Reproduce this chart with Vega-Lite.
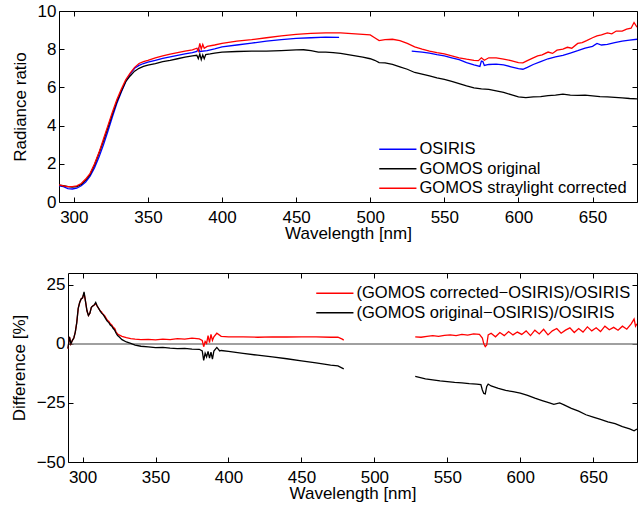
{
  "$schema": "https://vega.github.io/schema/vega-lite/v6.json",
  "padding": {"left": 10, "top": 2, "right": 3, "bottom": 2},
  "background": "white",
  "config": {
    "font": "Liberation Sans",
    "view": {"stroke": null},
    "axis": {
      "grid": false, "domainColor": "black", "domainWidth": 1, "tickColor": "black", "tickWidth": 1,
      "tickSize": -5, "labelFontSize": 17, "labelColor": "black", "titleFontSize": 17, "titleColor": "black",
      "titleFontWeight": "normal", "labelFont": "Liberation Sans", "titleFont": "Liberation Sans"
    },
    "legend": {
      "labelFontSize": 16.5, "labelColor": "black", "labelFont": "Liberation Sans", "padding": 0, "labelLimit": 500,
      "symbolType": "M-1,0H5.2", "symbolSize": 144, "symbolStrokeWidth": 1.4, "rowPadding": 2.5, "labelOffset": 26
    },
    "line": {"strokeWidth": 1.3}
  },
  "datasets": {
    "top": [
      {"wl":290,"s":"OSIRIS","g":1,"v":0.85},{"wl":293,"s":"OSIRIS","g":1,"v":0.8},{"wl":296,"s":"OSIRIS","g":1,"v":0.7},{"wl":299,"s":"OSIRIS","g":1,"v":0.68},{"wl":302,"s":"OSIRIS","g":1,"v":0.72},{"wl":305,"s":"OSIRIS","g":1,"v":0.85},{"wl":308,"s":"OSIRIS","g":1,"v":1.05},{"wl":311,"s":"OSIRIS","g":1,"v":1.35},{"wl":314,"s":"OSIRIS","g":1,"v":1.8},{"wl":317,"s":"OSIRIS","g":1,"v":2.35},{"wl":320,"s":"OSIRIS","g":1,"v":3.0},{"wl":323,"s":"OSIRIS","g":1,"v":3.7},{"wl":326,"s":"OSIRIS","g":1,"v":4.45},{"wl":329,"s":"OSIRIS","g":1,"v":5.15},{"wl":332,"s":"OSIRIS","g":1,"v":5.75},{"wl":335,"s":"OSIRIS","g":1,"v":6.3},{"wl":338,"s":"OSIRIS","g":1,"v":6.7},{"wl":341,"s":"OSIRIS","g":1,"v":7.0},{"wl":344,"s":"OSIRIS","g":1,"v":7.15},{"wl":347,"s":"OSIRIS","g":1,"v":7.25},{"wl":350,"s":"OSIRIS","g":1,"v":7.32},{"wl":355,"s":"OSIRIS","g":1,"v":7.42},{"wl":360,"s":"OSIRIS","g":1,"v":7.52},{"wl":365,"s":"OSIRIS","g":1,"v":7.6},{"wl":370,"s":"OSIRIS","g":1,"v":7.68},{"wl":375,"s":"OSIRIS","g":1,"v":7.75},{"wl":380,"s":"OSIRIS","g":1,"v":7.82},{"wl":383,"s":"OSIRIS","g":1,"v":7.88},{"wl":384,"s":"OSIRIS","g":1,"v":8.05},{"wl":385,"s":"OSIRIS","g":1,"v":7.88},{"wl":390,"s":"OSIRIS","g":1,"v":7.93},{"wl":395,"s":"OSIRIS","g":1,"v":8.02},{"wl":400,"s":"OSIRIS","g":1,"v":8.12},{"wl":410,"s":"OSIRIS","g":1,"v":8.22},{"wl":420,"s":"OSIRIS","g":1,"v":8.32},{"wl":430,"s":"OSIRIS","g":1,"v":8.42},{"wl":440,"s":"OSIRIS","g":1,"v":8.5},{"wl":450,"s":"OSIRIS","g":1,"v":8.57},{"wl":460,"s":"OSIRIS","g":1,"v":8.6},{"wl":470,"s":"OSIRIS","g":1,"v":8.63},{"wl":479,"s":"OSIRIS","g":1,"v":8.62},
      {"wl":528,"s":"OSIRIS","g":2,"v":7.9},{"wl":535,"s":"OSIRIS","g":2,"v":7.85},{"wl":540,"s":"OSIRIS","g":2,"v":7.8},{"wl":545,"s":"OSIRIS","g":2,"v":7.72},{"wl":550,"s":"OSIRIS","g":2,"v":7.65},{"wl":555,"s":"OSIRIS","g":2,"v":7.55},{"wl":560,"s":"OSIRIS","g":2,"v":7.45},{"wl":565,"s":"OSIRIS","g":2,"v":7.3},{"wl":570,"s":"OSIRIS","g":2,"v":7.18},{"wl":574,"s":"OSIRIS","g":2,"v":7.1},{"wl":575,"s":"OSIRIS","g":2,"v":7.38},{"wl":576,"s":"OSIRIS","g":2,"v":7.35},{"wl":577,"s":"OSIRIS","g":2,"v":7.15},{"wl":580,"s":"OSIRIS","g":2,"v":7.2},{"wl":585,"s":"OSIRIS","g":2,"v":7.22},{"wl":590,"s":"OSIRIS","g":2,"v":7.18},{"wl":595,"s":"OSIRIS","g":2,"v":7.08},{"wl":600,"s":"OSIRIS","g":2,"v":6.98},{"wl":603,"s":"OSIRIS","g":2,"v":6.95},{"wl":606,"s":"OSIRIS","g":2,"v":7.05},{"wl":610,"s":"OSIRIS","g":2,"v":7.2},{"wl":615,"s":"OSIRIS","g":2,"v":7.35},{"wl":620,"s":"OSIRIS","g":2,"v":7.5},{"wl":625,"s":"OSIRIS","g":2,"v":7.6},{"wl":630,"s":"OSIRIS","g":2,"v":7.68},{"wl":635,"s":"OSIRIS","g":2,"v":7.8},{"wl":640,"s":"OSIRIS","g":2,"v":7.92},{"wl":645,"s":"OSIRIS","g":2,"v":8.05},{"wl":650,"s":"OSIRIS","g":2,"v":8.15},{"wl":653,"s":"OSIRIS","g":2,"v":8.3},{"wl":656,"s":"OSIRIS","g":2,"v":8.22},{"wl":660,"s":"OSIRIS","g":2,"v":8.25},{"wl":665,"s":"OSIRIS","g":2,"v":8.35},{"wl":670,"s":"OSIRIS","g":2,"v":8.42},{"wl":675,"s":"OSIRIS","g":2,"v":8.48},{"wl":680,"s":"OSIRIS","g":2,"v":8.52},
      {"wl":290,"s":"GOMOS original","g":1,"v":0.88},{"wl":293,"s":"GOMOS original","g":1,"v":0.85},{"wl":296,"s":"GOMOS original","g":1,"v":0.8},{"wl":299,"s":"GOMOS original","g":1,"v":0.78},{"wl":302,"s":"GOMOS original","g":1,"v":0.8},{"wl":305,"s":"GOMOS original","g":1,"v":0.92},{"wl":308,"s":"GOMOS original","g":1,"v":1.15},{"wl":311,"s":"GOMOS original","g":1,"v":1.45},{"wl":314,"s":"GOMOS original","g":1,"v":1.95},{"wl":317,"s":"GOMOS original","g":1,"v":2.55},{"wl":320,"s":"GOMOS original","g":1,"v":3.2},{"wl":323,"s":"GOMOS original","g":1,"v":3.9},{"wl":326,"s":"GOMOS original","g":1,"v":4.6},{"wl":329,"s":"GOMOS original","g":1,"v":5.25},{"wl":332,"s":"GOMOS original","g":1,"v":5.8},{"wl":335,"s":"GOMOS original","g":1,"v":6.3},{"wl":338,"s":"GOMOS original","g":1,"v":6.6},{"wl":341,"s":"GOMOS original","g":1,"v":6.85},{"wl":344,"s":"GOMOS original","g":1,"v":7.0},{"wl":347,"s":"GOMOS original","g":1,"v":7.1},{"wl":350,"s":"GOMOS original","g":1,"v":7.17},{"wl":355,"s":"GOMOS original","g":1,"v":7.25},{"wl":360,"s":"GOMOS original","g":1,"v":7.35},{"wl":365,"s":"GOMOS original","g":1,"v":7.42},{"wl":370,"s":"GOMOS original","g":1,"v":7.5},{"wl":375,"s":"GOMOS original","g":1,"v":7.58},{"wl":380,"s":"GOMOS original","g":1,"v":7.65},{"wl":383,"s":"GOMOS original","g":1,"v":7.68},{"wl":384,"s":"GOMOS original","g":1,"v":7.5},{"wl":385,"s":"GOMOS original","g":1,"v":7.75},{"wl":386,"s":"GOMOS original","g":1,"v":7.45},{"wl":387,"s":"GOMOS original","g":1,"v":7.7},{"wl":388,"s":"GOMOS original","g":1,"v":7.5},{"wl":389,"s":"GOMOS original","g":1,"v":7.72},{"wl":392,"s":"GOMOS original","g":1,"v":7.75},{"wl":395,"s":"GOMOS original","g":1,"v":7.8},{"wl":400,"s":"GOMOS original","g":1,"v":7.85},{"wl":410,"s":"GOMOS original","g":1,"v":7.88},{"wl":420,"s":"GOMOS original","g":1,"v":7.9},{"wl":430,"s":"GOMOS original","g":1,"v":7.9},{"wl":440,"s":"GOMOS original","g":1,"v":7.93},{"wl":450,"s":"GOMOS original","g":1,"v":7.96},{"wl":455,"s":"GOMOS original","g":1,"v":7.97},{"wl":460,"s":"GOMOS original","g":1,"v":7.92},{"wl":465,"s":"GOMOS original","g":1,"v":7.85},{"wl":470,"s":"GOMOS original","g":1,"v":7.85},{"wl":475,"s":"GOMOS original","g":1,"v":7.82},{"wl":480,"s":"GOMOS original","g":1,"v":7.78},{"wl":485,"s":"GOMOS original","g":1,"v":7.72},{"wl":490,"s":"GOMOS original","g":1,"v":7.65},{"wl":495,"s":"GOMOS original","g":1,"v":7.58},{"wl":500,"s":"GOMOS original","g":1,"v":7.5},{"wl":503,"s":"GOMOS original","g":1,"v":7.42},{"wl":506,"s":"GOMOS original","g":1,"v":7.3},{"wl":510,"s":"GOMOS original","g":1,"v":7.28},{"wl":515,"s":"GOMOS original","g":1,"v":7.2},{"wl":520,"s":"GOMOS original","g":1,"v":7.08},{"wl":525,"s":"GOMOS original","g":1,"v":6.95},{"wl":530,"s":"GOMOS original","g":1,"v":6.78},{"wl":535,"s":"GOMOS original","g":1,"v":6.7},{"wl":540,"s":"GOMOS original","g":1,"v":6.6},{"wl":545,"s":"GOMOS original","g":1,"v":6.5},{"wl":550,"s":"GOMOS original","g":1,"v":6.42},{"wl":555,"s":"GOMOS original","g":1,"v":6.32},{"wl":560,"s":"GOMOS original","g":1,"v":6.2},{"wl":565,"s":"GOMOS original","g":1,"v":6.08},{"wl":570,"s":"GOMOS original","g":1,"v":5.98},{"wl":575,"s":"GOMOS original","g":1,"v":5.92},{"wl":580,"s":"GOMOS original","g":1,"v":5.9},{"wl":585,"s":"GOMOS original","g":1,"v":5.82},{"wl":590,"s":"GOMOS original","g":1,"v":5.74},{"wl":595,"s":"GOMOS original","g":1,"v":5.62},{"wl":600,"s":"GOMOS original","g":1,"v":5.5},{"wl":605,"s":"GOMOS original","g":1,"v":5.46},{"wl":610,"s":"GOMOS original","g":1,"v":5.5},{"wl":615,"s":"GOMOS original","g":1,"v":5.52},{"wl":620,"s":"GOMOS original","g":1,"v":5.57},{"wl":625,"s":"GOMOS original","g":1,"v":5.6},{"wl":630,"s":"GOMOS original","g":1,"v":5.65},{"wl":635,"s":"GOMOS original","g":1,"v":5.6},{"wl":640,"s":"GOMOS original","g":1,"v":5.58},{"wl":645,"s":"GOMOS original","g":1,"v":5.6},{"wl":650,"s":"GOMOS original","g":1,"v":5.56},{"wl":655,"s":"GOMOS original","g":1,"v":5.52},{"wl":660,"s":"GOMOS original","g":1,"v":5.5},{"wl":665,"s":"GOMOS original","g":1,"v":5.48},{"wl":670,"s":"GOMOS original","g":1,"v":5.45},{"wl":675,"s":"GOMOS original","g":1,"v":5.42},{"wl":680,"s":"GOMOS original","g":1,"v":5.4},
      {"wl":290,"s":"GOMOS straylight corrected","g":1,"v":0.9},{"wl":293,"s":"GOMOS straylight corrected","g":1,"v":0.85},{"wl":296,"s":"GOMOS straylight corrected","g":1,"v":0.8},{"wl":299,"s":"GOMOS straylight corrected","g":1,"v":0.8},{"wl":302,"s":"GOMOS straylight corrected","g":1,"v":0.85},{"wl":305,"s":"GOMOS straylight corrected","g":1,"v":0.97},{"wl":308,"s":"GOMOS straylight corrected","g":1,"v":1.2},{"wl":311,"s":"GOMOS straylight corrected","g":1,"v":1.5},{"wl":314,"s":"GOMOS straylight corrected","g":1,"v":2.0},{"wl":317,"s":"GOMOS straylight corrected","g":1,"v":2.6},{"wl":320,"s":"GOMOS straylight corrected","g":1,"v":3.3},{"wl":323,"s":"GOMOS straylight corrected","g":1,"v":4.0},{"wl":326,"s":"GOMOS straylight corrected","g":1,"v":4.7},{"wl":329,"s":"GOMOS straylight corrected","g":1,"v":5.35},{"wl":332,"s":"GOMOS straylight corrected","g":1,"v":5.9},{"wl":335,"s":"GOMOS straylight corrected","g":1,"v":6.4},{"wl":338,"s":"GOMOS straylight corrected","g":1,"v":6.75},{"wl":341,"s":"GOMOS straylight corrected","g":1,"v":7.05},{"wl":344,"s":"GOMOS straylight corrected","g":1,"v":7.25},{"wl":347,"s":"GOMOS straylight corrected","g":1,"v":7.35},{"wl":350,"s":"GOMOS straylight corrected","g":1,"v":7.42},{"wl":355,"s":"GOMOS straylight corrected","g":1,"v":7.55},{"wl":360,"s":"GOMOS straylight corrected","g":1,"v":7.65},{"wl":365,"s":"GOMOS straylight corrected","g":1,"v":7.74},{"wl":370,"s":"GOMOS straylight corrected","g":1,"v":7.82},{"wl":375,"s":"GOMOS straylight corrected","g":1,"v":7.9},{"wl":380,"s":"GOMOS straylight corrected","g":1,"v":7.97},{"wl":383,"s":"GOMOS straylight corrected","g":1,"v":8.05},{"wl":384,"s":"GOMOS straylight corrected","g":1,"v":7.9},{"wl":385,"s":"GOMOS straylight corrected","g":1,"v":8.3},{"wl":386,"s":"GOMOS straylight corrected","g":1,"v":8.0},{"wl":387,"s":"GOMOS straylight corrected","g":1,"v":8.25},{"wl":388,"s":"GOMOS straylight corrected","g":1,"v":8.05},{"wl":390,"s":"GOMOS straylight corrected","g":1,"v":8.15},{"wl":395,"s":"GOMOS straylight corrected","g":1,"v":8.22},{"wl":400,"s":"GOMOS straylight corrected","g":1,"v":8.3},{"wl":410,"s":"GOMOS straylight corrected","g":1,"v":8.42},{"wl":420,"s":"GOMOS straylight corrected","g":1,"v":8.5},{"wl":430,"s":"GOMOS straylight corrected","g":1,"v":8.6},{"wl":440,"s":"GOMOS straylight corrected","g":1,"v":8.7},{"wl":450,"s":"GOMOS straylight corrected","g":1,"v":8.78},{"wl":460,"s":"GOMOS straylight corrected","g":1,"v":8.83},{"wl":470,"s":"GOMOS straylight corrected","g":1,"v":8.85},{"wl":480,"s":"GOMOS straylight corrected","g":1,"v":8.85},{"wl":490,"s":"GOMOS straylight corrected","g":1,"v":8.8},{"wl":500,"s":"GOMOS straylight corrected","g":1,"v":8.75},{"wl":503,"s":"GOMOS straylight corrected","g":1,"v":8.6},{"wl":506,"s":"GOMOS straylight corrected","g":1,"v":8.45},{"wl":510,"s":"GOMOS straylight corrected","g":1,"v":8.5},{"wl":515,"s":"GOMOS straylight corrected","g":1,"v":8.52},{"wl":520,"s":"GOMOS straylight corrected","g":1,"v":8.45},{"wl":525,"s":"GOMOS straylight corrected","g":1,"v":8.3},{"wl":530,"s":"GOMOS straylight corrected","g":1,"v":8.12},{"wl":535,"s":"GOMOS straylight corrected","g":1,"v":8.0},{"wl":540,"s":"GOMOS straylight corrected","g":1,"v":7.9},{"wl":545,"s":"GOMOS straylight corrected","g":1,"v":7.82},{"wl":550,"s":"GOMOS straylight corrected","g":1,"v":7.75},{"wl":555,"s":"GOMOS straylight corrected","g":1,"v":7.65},{"wl":560,"s":"GOMOS straylight corrected","g":1,"v":7.55},{"wl":565,"s":"GOMOS straylight corrected","g":1,"v":7.48},{"wl":570,"s":"GOMOS straylight corrected","g":1,"v":7.42},{"wl":573,"s":"GOMOS straylight corrected","g":1,"v":7.4},{"wl":575,"s":"GOMOS straylight corrected","g":1,"v":7.55},{"wl":577,"s":"GOMOS straylight corrected","g":1,"v":7.42},{"wl":580,"s":"GOMOS straylight corrected","g":1,"v":7.55},{"wl":585,"s":"GOMOS straylight corrected","g":1,"v":7.55},{"wl":590,"s":"GOMOS straylight corrected","g":1,"v":7.48},{"wl":595,"s":"GOMOS straylight corrected","g":1,"v":7.4},{"wl":600,"s":"GOMOS straylight corrected","g":1,"v":7.3},{"wl":603,"s":"GOMOS straylight corrected","g":1,"v":7.28},{"wl":606,"s":"GOMOS straylight corrected","g":1,"v":7.4},{"wl":610,"s":"GOMOS straylight corrected","g":1,"v":7.55},{"wl":613,"s":"GOMOS straylight corrected","g":1,"v":7.65},{"wl":616,"s":"GOMOS straylight corrected","g":1,"v":7.7},{"wl":620,"s":"GOMOS straylight corrected","g":1,"v":7.85},{"wl":623,"s":"GOMOS straylight corrected","g":1,"v":7.78},{"wl":626,"s":"GOMOS straylight corrected","g":1,"v":7.95},{"wl":630,"s":"GOMOS straylight corrected","g":1,"v":8.0},{"wl":633,"s":"GOMOS straylight corrected","g":1,"v":8.1},{"wl":636,"s":"GOMOS straylight corrected","g":1,"v":8.05},{"wl":640,"s":"GOMOS straylight corrected","g":1,"v":8.3},{"wl":643,"s":"GOMOS straylight corrected","g":1,"v":8.35},{"wl":646,"s":"GOMOS straylight corrected","g":1,"v":8.45},{"wl":650,"s":"GOMOS straylight corrected","g":1,"v":8.6},{"wl":653,"s":"GOMOS straylight corrected","g":1,"v":8.7},{"wl":656,"s":"GOMOS straylight corrected","g":1,"v":8.75},{"wl":660,"s":"GOMOS straylight corrected","g":1,"v":8.85},{"wl":663,"s":"GOMOS straylight corrected","g":1,"v":8.8},{"wl":666,"s":"GOMOS straylight corrected","g":1,"v":8.95},{"wl":670,"s":"GOMOS straylight corrected","g":1,"v":8.95},{"wl":673,"s":"GOMOS straylight corrected","g":1,"v":9.05},{"wl":676,"s":"GOMOS straylight corrected","g":1,"v":9.1},{"wl":678,"s":"GOMOS straylight corrected","g":1,"v":9.4},{"wl":680,"s":"GOMOS straylight corrected","g":1,"v":9.15}
    ],
    "bottom": [
      {"wl":290,"s":"(GOMOS corrected−OSIRIS)/OSIRIS","g":1,"v":-2},{"wl":291,"s":"(GOMOS corrected−OSIRIS)/OSIRIS","g":1,"v":3},{"wl":292,"s":"(GOMOS corrected−OSIRIS)/OSIRIS","g":1,"v":0},{"wl":293,"s":"(GOMOS corrected−OSIRIS)/OSIRIS","g":1,"v":1.5},{"wl":294,"s":"(GOMOS corrected−OSIRIS)/OSIRIS","g":1,"v":2.5},{"wl":295,"s":"(GOMOS corrected−OSIRIS)/OSIRIS","g":1,"v":5},{"wl":296,"s":"(GOMOS corrected−OSIRIS)/OSIRIS","g":1,"v":9},{"wl":297,"s":"(GOMOS corrected−OSIRIS)/OSIRIS","g":1,"v":15},{"wl":298,"s":"(GOMOS corrected−OSIRIS)/OSIRIS","g":1,"v":17.5},{"wl":299,"s":"(GOMOS corrected−OSIRIS)/OSIRIS","g":1,"v":19},{"wl":300,"s":"(GOMOS corrected−OSIRIS)/OSIRIS","g":1,"v":19.5},{"wl":301,"s":"(GOMOS corrected−OSIRIS)/OSIRIS","g":1,"v":21.5},{"wl":302,"s":"(GOMOS corrected−OSIRIS)/OSIRIS","g":1,"v":18},{"wl":303,"s":"(GOMOS corrected−OSIRIS)/OSIRIS","g":1,"v":14},{"wl":304,"s":"(GOMOS corrected−OSIRIS)/OSIRIS","g":1,"v":12},{"wl":305,"s":"(GOMOS corrected−OSIRIS)/OSIRIS","g":1,"v":13},{"wl":306,"s":"(GOMOS corrected−OSIRIS)/OSIRIS","g":1,"v":15.5},{"wl":307,"s":"(GOMOS corrected−OSIRIS)/OSIRIS","g":1,"v":16},{"wl":308,"s":"(GOMOS corrected−OSIRIS)/OSIRIS","g":1,"v":16.5},{"wl":309,"s":"(GOMOS corrected−OSIRIS)/OSIRIS","g":1,"v":17},{"wl":310,"s":"(GOMOS corrected−OSIRIS)/OSIRIS","g":1,"v":16},{"wl":311,"s":"(GOMOS corrected−OSIRIS)/OSIRIS","g":1,"v":15},{"wl":312,"s":"(GOMOS corrected−OSIRIS)/OSIRIS","g":1,"v":14},{"wl":313,"s":"(GOMOS corrected−OSIRIS)/OSIRIS","g":1,"v":13.5},{"wl":314,"s":"(GOMOS corrected−OSIRIS)/OSIRIS","g":1,"v":12.5},{"wl":315,"s":"(GOMOS corrected−OSIRIS)/OSIRIS","g":1,"v":12},{"wl":316,"s":"(GOMOS corrected−OSIRIS)/OSIRIS","g":1,"v":11},{"wl":317,"s":"(GOMOS corrected−OSIRIS)/OSIRIS","g":1,"v":10},{"wl":318,"s":"(GOMOS corrected−OSIRIS)/OSIRIS","g":1,"v":9.5},{"wl":319,"s":"(GOMOS corrected−OSIRIS)/OSIRIS","g":1,"v":8.5},{"wl":320,"s":"(GOMOS corrected−OSIRIS)/OSIRIS","g":1,"v":8},{"wl":321,"s":"(GOMOS corrected−OSIRIS)/OSIRIS","g":1,"v":7},{"wl":322,"s":"(GOMOS corrected−OSIRIS)/OSIRIS","g":1,"v":6.5},{"wl":323,"s":"(GOMOS corrected−OSIRIS)/OSIRIS","g":1,"v":5},{"wl":324,"s":"(GOMOS corrected−OSIRIS)/OSIRIS","g":1,"v":4.2},{"wl":325,"s":"(GOMOS corrected−OSIRIS)/OSIRIS","g":1,"v":3.8},{"wl":327,"s":"(GOMOS corrected−OSIRIS)/OSIRIS","g":1,"v":3.2},{"wl":330,"s":"(GOMOS corrected−OSIRIS)/OSIRIS","g":1,"v":2.6},{"wl":333,"s":"(GOMOS corrected−OSIRIS)/OSIRIS","g":1,"v":2.2},{"wl":336,"s":"(GOMOS corrected−OSIRIS)/OSIRIS","g":1,"v":2.0},{"wl":340,"s":"(GOMOS corrected−OSIRIS)/OSIRIS","g":1,"v":1.8},{"wl":345,"s":"(GOMOS corrected−OSIRIS)/OSIRIS","g":1,"v":1.9},{"wl":350,"s":"(GOMOS corrected−OSIRIS)/OSIRIS","g":1,"v":1.7},{"wl":355,"s":"(GOMOS corrected−OSIRIS)/OSIRIS","g":1,"v":2.0},{"wl":360,"s":"(GOMOS corrected−OSIRIS)/OSIRIS","g":1,"v":1.8},{"wl":365,"s":"(GOMOS corrected−OSIRIS)/OSIRIS","g":1,"v":2.2},{"wl":370,"s":"(GOMOS corrected−OSIRIS)/OSIRIS","g":1,"v":2.0},{"wl":375,"s":"(GOMOS corrected−OSIRIS)/OSIRIS","g":1,"v":2.4},{"wl":380,"s":"(GOMOS corrected−OSIRIS)/OSIRIS","g":1,"v":2.1},{"wl":382,"s":"(GOMOS corrected−OSIRIS)/OSIRIS","g":1,"v":1.5},{"wl":383,"s":"(GOMOS corrected−OSIRIS)/OSIRIS","g":1,"v":-1.2},{"wl":384,"s":"(GOMOS corrected−OSIRIS)/OSIRIS","g":1,"v":1.0},{"wl":385,"s":"(GOMOS corrected−OSIRIS)/OSIRIS","g":1,"v":0.2},{"wl":386,"s":"(GOMOS corrected−OSIRIS)/OSIRIS","g":1,"v":3.5},{"wl":387,"s":"(GOMOS corrected−OSIRIS)/OSIRIS","g":1,"v":0.5},{"wl":388,"s":"(GOMOS corrected−OSIRIS)/OSIRIS","g":1,"v":4.0},{"wl":389,"s":"(GOMOS corrected−OSIRIS)/OSIRIS","g":1,"v":1.5},{"wl":390,"s":"(GOMOS corrected−OSIRIS)/OSIRIS","g":1,"v":3.0},{"wl":392,"s":"(GOMOS corrected−OSIRIS)/OSIRIS","g":1,"v":4.5},{"wl":395,"s":"(GOMOS corrected−OSIRIS)/OSIRIS","g":1,"v":3.2},{"wl":400,"s":"(GOMOS corrected−OSIRIS)/OSIRIS","g":1,"v":3.0},{"wl":410,"s":"(GOMOS corrected−OSIRIS)/OSIRIS","g":1,"v":3.0},{"wl":420,"s":"(GOMOS corrected−OSIRIS)/OSIRIS","g":1,"v":2.8},{"wl":430,"s":"(GOMOS corrected−OSIRIS)/OSIRIS","g":1,"v":3.0},{"wl":440,"s":"(GOMOS corrected−OSIRIS)/OSIRIS","g":1,"v":2.9},{"wl":450,"s":"(GOMOS corrected−OSIRIS)/OSIRIS","g":1,"v":3.0},{"wl":460,"s":"(GOMOS corrected−OSIRIS)/OSIRIS","g":1,"v":3.0},{"wl":470,"s":"(GOMOS corrected−OSIRIS)/OSIRIS","g":1,"v":2.8},{"wl":475,"s":"(GOMOS corrected−OSIRIS)/OSIRIS","g":1,"v":2.8},{"wl":478,"s":"(GOMOS corrected−OSIRIS)/OSIRIS","g":1,"v":2.0},{"wl":479,"s":"(GOMOS corrected−OSIRIS)/OSIRIS","g":1,"v":1.6},
      {"wl":528,"s":"(GOMOS corrected−OSIRIS)/OSIRIS","g":2,"v":3.0},{"wl":532,"s":"(GOMOS corrected−OSIRIS)/OSIRIS","g":2,"v":2.8},{"wl":536,"s":"(GOMOS corrected−OSIRIS)/OSIRIS","g":2,"v":3.2},{"wl":540,"s":"(GOMOS corrected−OSIRIS)/OSIRIS","g":2,"v":3.5},{"wl":544,"s":"(GOMOS corrected−OSIRIS)/OSIRIS","g":2,"v":3.2},{"wl":548,"s":"(GOMOS corrected−OSIRIS)/OSIRIS","g":2,"v":3.6},{"wl":552,"s":"(GOMOS corrected−OSIRIS)/OSIRIS","g":2,"v":3.8},{"wl":556,"s":"(GOMOS corrected−OSIRIS)/OSIRIS","g":2,"v":3.5},{"wl":560,"s":"(GOMOS corrected−OSIRIS)/OSIRIS","g":2,"v":4.0},{"wl":564,"s":"(GOMOS corrected−OSIRIS)/OSIRIS","g":2,"v":3.7},{"wl":568,"s":"(GOMOS corrected−OSIRIS)/OSIRIS","g":2,"v":4.2},{"wl":572,"s":"(GOMOS corrected−OSIRIS)/OSIRIS","g":2,"v":4.0},{"wl":574,"s":"(GOMOS corrected−OSIRIS)/OSIRIS","g":2,"v":2.5},{"wl":575,"s":"(GOMOS corrected−OSIRIS)/OSIRIS","g":2,"v":0.0},{"wl":576,"s":"(GOMOS corrected−OSIRIS)/OSIRIS","g":2,"v":-1.2},{"wl":577,"s":"(GOMOS corrected−OSIRIS)/OSIRIS","g":2,"v":-0.5},{"wl":578,"s":"(GOMOS corrected−OSIRIS)/OSIRIS","g":2,"v":3.8},{"wl":580,"s":"(GOMOS corrected−OSIRIS)/OSIRIS","g":2,"v":4.5},{"wl":583,"s":"(GOMOS corrected−OSIRIS)/OSIRIS","g":2,"v":3.0},{"wl":586,"s":"(GOMOS corrected−OSIRIS)/OSIRIS","g":2,"v":4.8},{"wl":589,"s":"(GOMOS corrected−OSIRIS)/OSIRIS","g":2,"v":3.5},{"wl":592,"s":"(GOMOS corrected−OSIRIS)/OSIRIS","g":2,"v":5.2},{"wl":595,"s":"(GOMOS corrected−OSIRIS)/OSIRIS","g":2,"v":3.8},{"wl":598,"s":"(GOMOS corrected−OSIRIS)/OSIRIS","g":2,"v":5.0},{"wl":601,"s":"(GOMOS corrected−OSIRIS)/OSIRIS","g":2,"v":4.0},{"wl":604,"s":"(GOMOS corrected−OSIRIS)/OSIRIS","g":2,"v":5.5},{"wl":607,"s":"(GOMOS corrected−OSIRIS)/OSIRIS","g":2,"v":3.5},{"wl":610,"s":"(GOMOS corrected−OSIRIS)/OSIRIS","g":2,"v":5.8},{"wl":613,"s":"(GOMOS corrected−OSIRIS)/OSIRIS","g":2,"v":4.2},{"wl":616,"s":"(GOMOS corrected−OSIRIS)/OSIRIS","g":2,"v":6.2},{"wl":619,"s":"(GOMOS corrected−OSIRIS)/OSIRIS","g":2,"v":3.8},{"wl":622,"s":"(GOMOS corrected−OSIRIS)/OSIRIS","g":2,"v":5.5},{"wl":625,"s":"(GOMOS corrected−OSIRIS)/OSIRIS","g":2,"v":6.5},{"wl":628,"s":"(GOMOS corrected−OSIRIS)/OSIRIS","g":2,"v":4.5},{"wl":631,"s":"(GOMOS corrected−OSIRIS)/OSIRIS","g":2,"v":5.8},{"wl":634,"s":"(GOMOS corrected−OSIRIS)/OSIRIS","g":2,"v":6.8},{"wl":637,"s":"(GOMOS corrected−OSIRIS)/OSIRIS","g":2,"v":4.8},{"wl":640,"s":"(GOMOS corrected−OSIRIS)/OSIRIS","g":2,"v":6.5},{"wl":643,"s":"(GOMOS corrected−OSIRIS)/OSIRIS","g":2,"v":5.0},{"wl":646,"s":"(GOMOS corrected−OSIRIS)/OSIRIS","g":2,"v":7.2},{"wl":649,"s":"(GOMOS corrected−OSIRIS)/OSIRIS","g":2,"v":5.5},{"wl":652,"s":"(GOMOS corrected−OSIRIS)/OSIRIS","g":2,"v":6.8},{"wl":655,"s":"(GOMOS corrected−OSIRIS)/OSIRIS","g":2,"v":5.2},{"wl":658,"s":"(GOMOS corrected−OSIRIS)/OSIRIS","g":2,"v":7.5},{"wl":661,"s":"(GOMOS corrected−OSIRIS)/OSIRIS","g":2,"v":6.0},{"wl":664,"s":"(GOMOS corrected−OSIRIS)/OSIRIS","g":2,"v":7.0},{"wl":667,"s":"(GOMOS corrected−OSIRIS)/OSIRIS","g":2,"v":5.8},{"wl":670,"s":"(GOMOS corrected−OSIRIS)/OSIRIS","g":2,"v":7.5},{"wl":673,"s":"(GOMOS corrected−OSIRIS)/OSIRIS","g":2,"v":6.2},{"wl":676,"s":"(GOMOS corrected−OSIRIS)/OSIRIS","g":2,"v":8.5},{"wl":678,"s":"(GOMOS corrected−OSIRIS)/OSIRIS","g":2,"v":10.5},{"wl":679,"s":"(GOMOS corrected−OSIRIS)/OSIRIS","g":2,"v":7.5},{"wl":680,"s":"(GOMOS corrected−OSIRIS)/OSIRIS","g":2,"v":8.5},
      {"wl":290,"s":"(GOMOS original−OSIRIS)/OSIRIS","g":1,"v":-2},{"wl":291,"s":"(GOMOS original−OSIRIS)/OSIRIS","g":1,"v":3},{"wl":292,"s":"(GOMOS original−OSIRIS)/OSIRIS","g":1,"v":0},{"wl":293,"s":"(GOMOS original−OSIRIS)/OSIRIS","g":1,"v":1.5},{"wl":294,"s":"(GOMOS original−OSIRIS)/OSIRIS","g":1,"v":2.5},{"wl":295,"s":"(GOMOS original−OSIRIS)/OSIRIS","g":1,"v":5},{"wl":296,"s":"(GOMOS original−OSIRIS)/OSIRIS","g":1,"v":9},{"wl":297,"s":"(GOMOS original−OSIRIS)/OSIRIS","g":1,"v":15},{"wl":298,"s":"(GOMOS original−OSIRIS)/OSIRIS","g":1,"v":17.5},{"wl":299,"s":"(GOMOS original−OSIRIS)/OSIRIS","g":1,"v":19},{"wl":300,"s":"(GOMOS original−OSIRIS)/OSIRIS","g":1,"v":19.5},{"wl":301,"s":"(GOMOS original−OSIRIS)/OSIRIS","g":1,"v":22},{"wl":302,"s":"(GOMOS original−OSIRIS)/OSIRIS","g":1,"v":18},{"wl":303,"s":"(GOMOS original−OSIRIS)/OSIRIS","g":1,"v":14},{"wl":304,"s":"(GOMOS original−OSIRIS)/OSIRIS","g":1,"v":12},{"wl":305,"s":"(GOMOS original−OSIRIS)/OSIRIS","g":1,"v":13},{"wl":306,"s":"(GOMOS original−OSIRIS)/OSIRIS","g":1,"v":15.5},{"wl":307,"s":"(GOMOS original−OSIRIS)/OSIRIS","g":1,"v":16},{"wl":308,"s":"(GOMOS original−OSIRIS)/OSIRIS","g":1,"v":16.5},{"wl":309,"s":"(GOMOS original−OSIRIS)/OSIRIS","g":1,"v":17.5},{"wl":310,"s":"(GOMOS original−OSIRIS)/OSIRIS","g":1,"v":16},{"wl":311,"s":"(GOMOS original−OSIRIS)/OSIRIS","g":1,"v":15},{"wl":312,"s":"(GOMOS original−OSIRIS)/OSIRIS","g":1,"v":14},{"wl":313,"s":"(GOMOS original−OSIRIS)/OSIRIS","g":1,"v":13},{"wl":314,"s":"(GOMOS original−OSIRIS)/OSIRIS","g":1,"v":12.5},{"wl":315,"s":"(GOMOS original−OSIRIS)/OSIRIS","g":1,"v":11.5},{"wl":316,"s":"(GOMOS original−OSIRIS)/OSIRIS","g":1,"v":10.5},{"wl":317,"s":"(GOMOS original−OSIRIS)/OSIRIS","g":1,"v":9.5},{"wl":318,"s":"(GOMOS original−OSIRIS)/OSIRIS","g":1,"v":9},{"wl":319,"s":"(GOMOS original−OSIRIS)/OSIRIS","g":1,"v":8},{"wl":320,"s":"(GOMOS original−OSIRIS)/OSIRIS","g":1,"v":7.5},{"wl":321,"s":"(GOMOS original−OSIRIS)/OSIRIS","g":1,"v":6.5},{"wl":322,"s":"(GOMOS original−OSIRIS)/OSIRIS","g":1,"v":5.8},{"wl":323,"s":"(GOMOS original−OSIRIS)/OSIRIS","g":1,"v":4.5},{"wl":324,"s":"(GOMOS original−OSIRIS)/OSIRIS","g":1,"v":3.5},{"wl":325,"s":"(GOMOS original−OSIRIS)/OSIRIS","g":1,"v":3.0},{"wl":327,"s":"(GOMOS original−OSIRIS)/OSIRIS","g":1,"v":1.8},{"wl":330,"s":"(GOMOS original−OSIRIS)/OSIRIS","g":1,"v":0.8},{"wl":333,"s":"(GOMOS original−OSIRIS)/OSIRIS","g":1,"v":0.2},{"wl":336,"s":"(GOMOS original−OSIRIS)/OSIRIS","g":1,"v":-0.5},{"wl":340,"s":"(GOMOS original−OSIRIS)/OSIRIS","g":1,"v":-1.0},{"wl":345,"s":"(GOMOS original−OSIRIS)/OSIRIS","g":1,"v":-1.3},{"wl":350,"s":"(GOMOS original−OSIRIS)/OSIRIS","g":1,"v":-1.6},{"wl":355,"s":"(GOMOS original−OSIRIS)/OSIRIS","g":1,"v":-1.5},{"wl":360,"s":"(GOMOS original−OSIRIS)/OSIRIS","g":1,"v":-1.8},{"wl":365,"s":"(GOMOS original−OSIRIS)/OSIRIS","g":1,"v":-2.0},{"wl":370,"s":"(GOMOS original−OSIRIS)/OSIRIS","g":1,"v":-1.9},{"wl":375,"s":"(GOMOS original−OSIRIS)/OSIRIS","g":1,"v":-2.2},{"wl":380,"s":"(GOMOS original−OSIRIS)/OSIRIS","g":1,"v":-2.3},{"wl":382,"s":"(GOMOS original−OSIRIS)/OSIRIS","g":1,"v":-3.0},{"wl":383,"s":"(GOMOS original−OSIRIS)/OSIRIS","g":1,"v":-7.0},{"wl":384,"s":"(GOMOS original−OSIRIS)/OSIRIS","g":1,"v":-4.0},{"wl":385,"s":"(GOMOS original−OSIRIS)/OSIRIS","g":1,"v":-5.5},{"wl":386,"s":"(GOMOS original−OSIRIS)/OSIRIS","g":1,"v":-3.2},{"wl":387,"s":"(GOMOS original−OSIRIS)/OSIRIS","g":1,"v":-6.0},{"wl":388,"s":"(GOMOS original−OSIRIS)/OSIRIS","g":1,"v":-3.5},{"wl":389,"s":"(GOMOS original−OSIRIS)/OSIRIS","g":1,"v":-6.5},{"wl":390,"s":"(GOMOS original−OSIRIS)/OSIRIS","g":1,"v":-3.0},{"wl":392,"s":"(GOMOS original−OSIRIS)/OSIRIS","g":1,"v":-1.5},{"wl":394,"s":"(GOMOS original−OSIRIS)/OSIRIS","g":1,"v":-3.0},{"wl":395,"s":"(GOMOS original−OSIRIS)/OSIRIS","g":1,"v":-2.8},{"wl":400,"s":"(GOMOS original−OSIRIS)/OSIRIS","g":1,"v":-3.2},{"wl":410,"s":"(GOMOS original−OSIRIS)/OSIRIS","g":1,"v":-4.0},{"wl":420,"s":"(GOMOS original−OSIRIS)/OSIRIS","g":1,"v":-4.8},{"wl":430,"s":"(GOMOS original−OSIRIS)/OSIRIS","g":1,"v":-5.5},{"wl":440,"s":"(GOMOS original−OSIRIS)/OSIRIS","g":1,"v":-6.3},{"wl":450,"s":"(GOMOS original−OSIRIS)/OSIRIS","g":1,"v":-7.2},{"wl":460,"s":"(GOMOS original−OSIRIS)/OSIRIS","g":1,"v":-8.0},{"wl":470,"s":"(GOMOS original−OSIRIS)/OSIRIS","g":1,"v":-9.0},{"wl":475,"s":"(GOMOS original−OSIRIS)/OSIRIS","g":1,"v":-9.3},{"wl":479,"s":"(GOMOS original−OSIRIS)/OSIRIS","g":1,"v":-10.6},
      {"wl":528,"s":"(GOMOS original−OSIRIS)/OSIRIS","g":2,"v":-13.8},{"wl":535,"s":"(GOMOS original−OSIRIS)/OSIRIS","g":2,"v":-14.8},{"wl":540,"s":"(GOMOS original−OSIRIS)/OSIRIS","g":2,"v":-15.2},{"wl":545,"s":"(GOMOS original−OSIRIS)/OSIRIS","g":2,"v":-15.7},{"wl":550,"s":"(GOMOS original−OSIRIS)/OSIRIS","g":2,"v":-16.0},{"wl":555,"s":"(GOMOS original−OSIRIS)/OSIRIS","g":2,"v":-16.3},{"wl":560,"s":"(GOMOS original−OSIRIS)/OSIRIS","g":2,"v":-16.5},{"wl":565,"s":"(GOMOS original−OSIRIS)/OSIRIS","g":2,"v":-16.8},{"wl":570,"s":"(GOMOS original−OSIRIS)/OSIRIS","g":2,"v":-17.0},{"wl":573,"s":"(GOMOS original−OSIRIS)/OSIRIS","g":2,"v":-17.2},{"wl":574,"s":"(GOMOS original−OSIRIS)/OSIRIS","g":2,"v":-19.5},{"wl":575,"s":"(GOMOS original−OSIRIS)/OSIRIS","g":2,"v":-21.0},{"wl":576,"s":"(GOMOS original−OSIRIS)/OSIRIS","g":2,"v":-21.2},{"wl":577,"s":"(GOMOS original−OSIRIS)/OSIRIS","g":2,"v":-18.0},{"wl":578,"s":"(GOMOS original−OSIRIS)/OSIRIS","g":2,"v":-17.0},{"wl":580,"s":"(GOMOS original−OSIRIS)/OSIRIS","g":2,"v":-17.8},{"wl":585,"s":"(GOMOS original−OSIRIS)/OSIRIS","g":2,"v":-18.8},{"wl":590,"s":"(GOMOS original−OSIRIS)/OSIRIS","g":2,"v":-19.7},{"wl":595,"s":"(GOMOS original−OSIRIS)/OSIRIS","g":2,"v":-20.2},{"wl":600,"s":"(GOMOS original−OSIRIS)/OSIRIS","g":2,"v":-20.8},{"wl":605,"s":"(GOMOS original−OSIRIS)/OSIRIS","g":2,"v":-21.8},{"wl":610,"s":"(GOMOS original−OSIRIS)/OSIRIS","g":2,"v":-23.0},{"wl":615,"s":"(GOMOS original−OSIRIS)/OSIRIS","g":2,"v":-24.0},{"wl":620,"s":"(GOMOS original−OSIRIS)/OSIRIS","g":2,"v":-25.0},{"wl":623,"s":"(GOMOS original−OSIRIS)/OSIRIS","g":2,"v":-25.6},{"wl":627,"s":"(GOMOS original−OSIRIS)/OSIRIS","g":2,"v":-25.0},{"wl":630,"s":"(GOMOS original−OSIRIS)/OSIRIS","g":2,"v":-25.8},{"wl":635,"s":"(GOMOS original−OSIRIS)/OSIRIS","g":2,"v":-27.3},{"wl":640,"s":"(GOMOS original−OSIRIS)/OSIRIS","g":2,"v":-28.5},{"wl":645,"s":"(GOMOS original−OSIRIS)/OSIRIS","g":2,"v":-30.0},{"wl":650,"s":"(GOMOS original−OSIRIS)/OSIRIS","g":2,"v":-31.0},{"wl":655,"s":"(GOMOS original−OSIRIS)/OSIRIS","g":2,"v":-32.0},{"wl":660,"s":"(GOMOS original−OSIRIS)/OSIRIS","g":2,"v":-33.0},{"wl":665,"s":"(GOMOS original−OSIRIS)/OSIRIS","g":2,"v":-33.8},{"wl":670,"s":"(GOMOS original−OSIRIS)/OSIRIS","g":2,"v":-35.0},{"wl":675,"s":"(GOMOS original−OSIRIS)/OSIRIS","g":2,"v":-36.0},{"wl":678,"s":"(GOMOS original−OSIRIS)/OSIRIS","g":2,"v":-36.8},{"wl":680,"s":"(GOMOS original−OSIRIS)/OSIRIS","g":2,"v":-36.0}
    ]
  },
  "vconcat": [
    {
      "width": 578, "height": 191,
      "layer": [
        {
          "data": {"name": "top"},
          "mark": {"type": "line", "clip": true},
          "encoding": {
            "x": {"field": "wl", "type": "quantitative", "scale": {"domain": [290, 680], "nice": false, "zero": false},
                  "axis": {"orient": "bottom", "values": [300, 350, 400, 450, 500, 550, 600, 650], "title": "Wavelength [nm]", "labelPadding": 12, "titlePadding": 0}},
            "y": {"field": "v", "type": "quantitative", "scale": {"domain": [0, 10], "nice": false},
                  "axis": {"orient": "left", "values": [0, 2, 4, 6, 8, 10], "title": "Radiance ratio", "labelPadding": 8, "titlePadding": 8}},
            "color": {"field": "s", "type": "nominal",
                      "scale": {"domain": ["OSIRIS", "GOMOS original", "GOMOS straylight corrected"], "range": ["#0000ff", "#000000", "#ff0000"]},
                      "legend": {"title": null, "orient": "none", "legendX": 318, "legendY": 130}},
            "detail": {"field": "g"},
            "order": {"field": "wl", "type": "quantitative"}
          }
        },
        {
          "data": {"values": [{}]},
          "mark": {"type": "point", "opacity": 0},
          "encoding": {
            "x": {"datum": 300, "type": "quantitative", "axis": {"orient": "top", "values": [300, 350, 400, 450, 500, 550, 600, 650], "labels": false, "title": null}},
            "y": {"datum": 5, "type": "quantitative", "axis": {"orient": "right", "values": [0, 2, 4, 6, 8, 10], "labels": false, "title": null}}
          }
        }
      ],
      "resolve": {"axis": {"x": "independent", "y": "independent"}}
    },
    {
      "width": 578, "height": 189,
      "layer": [
        {
          "data": {"values": [{}]},
          "mark": {"type": "rule", "color": "#808080", "strokeWidth": 1.5},
          "encoding": {
            "x": {"datum": 290, "type": "quantitative", "axis": null},
            "x2": {"datum": 680},
            "y": {"datum": 0, "type": "quantitative", "axis": null}
          }
        },
        {
          "data": {"name": "bottom"},
          "mark": {"type": "line", "clip": true},
          "encoding": {
            "x": {"field": "wl", "type": "quantitative", "scale": {"domain": [290, 680], "range": [9, 578], "nice": false, "zero": false},
                  "axis": {"orient": "bottom", "values": [300, 350, 400, 450, 500, 550, 600, 650], "title": "Wavelength [nm]", "labelPadding": 12, "titlePadding": 0}},
            "y": {"field": "v", "type": "quantitative", "scale": {"domain": [-50, 30], "nice": false},
                  "axis": {"orient": "left", "offset": -9, "values": [-50, -25, 0, 25], "title": "Difference [%]", "labelPadding": 8, "titlePadding": 8}},
            "color": {"field": "s", "type": "nominal",
                      "scale": {"domain": ["(GOMOS corrected−OSIRIS)/OSIRIS", "(GOMOS original−OSIRIS)/OSIRIS"], "range": ["#ff0000", "#000000"]},
                      "legend": {"title": null, "orient": "none", "legendX": 255, "legendY": 12}},
            "detail": {"field": "g"},
            "order": {"field": "wl", "type": "quantitative"}
          }
        },
        {
          "data": {"values": [{}]},
          "mark": {"type": "point", "opacity": 0},
          "encoding": {
            "x": {"datum": 300, "type": "quantitative", "axis": {"orient": "top", "values": [300, 350, 400, 450, 500, 550, 600, 650], "labels": false, "title": null}},
            "y": {"datum": 0, "type": "quantitative", "axis": {"orient": "right", "values": [-50, -25, 0, 25], "labels": false, "title": null}}
          }
        }
      ],
      "resolve": {"axis": {"x": "independent", "y": "independent"}}
    }
  ],
  "spacing": 31,
  "resolve": {"scale": {"color": "independent", "x": "independent", "y": "independent"}, "legend": {"color": "independent"}}
}
